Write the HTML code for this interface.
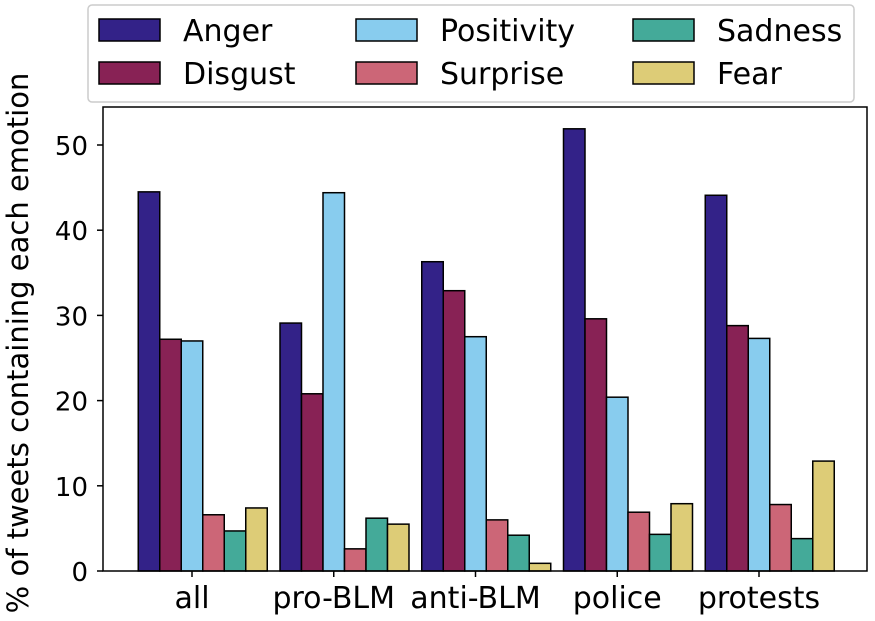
<!DOCTYPE html>
<html><head><meta charset="utf-8"><style>
body{margin:0;background:#fff;}
svg{display:block;font-family:"DejaVu Sans","Liberation Sans",sans-serif;}
</style></head><body>
<svg id="chart" width="875" height="621" viewBox="0 0 875 621">
<g id="bars"></g>
<rect x="103" y="107" width="764" height="464" fill="none" stroke="#000" stroke-width="1.5"/>
<g id="yaxis"></g>
<g id="xaxis"></g>
<text transform="translate(28,343) rotate(-90)" text-anchor="middle" font-size="29">% of tweets containing each emotion</text>
<g id="legend"></g>
</svg>
<script>
const categories = ["all","pro-BLM","anti-BLM","police","protests"];
const seriesNames = ["Anger","Disgust","Positivity","Surprise","Sadness","Fear"];
const anger = [44.5,29.1,36.3,51.9,44.1];
const disgust = [27.2,20.8,32.9,29.6,28.8];
const positivity = [27.0,44.4,27.5,20.4,27.3];
const surprise = [6.6,2.6,6.0,6.9,7.8];
const sadness = [4.7,6.2,4.2,4.3,3.8];
const fear = [7.4,5.5,0.9,7.9,12.9];
const yTicks = [0,10,20,30,40,50];
const series = [anger,disgust,positivity,surprise,sadness,fear];
const colors = ["#332288","#882255","#88CCEE","#CC6677","#44AA99","#DDCC77"];
const NS="http://www.w3.org/2000/svg";
const y0=571, pxPer=8.52;
function yScale(v){return y0 - v*pxPer;}
function xCenter(i){return 192 + i*141.75;}
const bw=21.5;
function mk(tag,attrs,parent){const e=document.createElementNS(NS,tag);for(const k in attrs)e.setAttribute(k,attrs[k]);parent.appendChild(e);return e;}
const bars=document.getElementById('bars');
series.forEach((s,si)=>{s.forEach((v,ci)=>{
  const x=xCenter(ci)+(si-2.5)*bw;
  const r=mk('rect',{x:x,y:yScale(v),width:bw,height:v*pxPer,fill:colors[si],stroke:'#000','stroke-width':1.5},bars);
  
  
});});
const ya=document.getElementById('yaxis');
yTicks.forEach(t=>{
  const l=mk('line',{x1:97,x2:103,y1:yScale(t),y2:yScale(t),stroke:'#000','stroke-width':1.5},ya);
  
  
  const tx=mk('text',{x:88,y:yScale(t)+10,'text-anchor':'end','font-size':26},ya);
  tx.textContent=t;
  
  
});
const xa=document.getElementById('xaxis');
categories.forEach((c,i)=>{
  const l=mk('line',{x1:xCenter(i),x2:xCenter(i),y1:571,y2:577,stroke:'#000','stroke-width':1.5},xa);
  
  
  const tx=mk('text',{x:xCenter(i),y:608,'text-anchor':'middle','font-size':30},xa);
  tx.textContent=c;
  
  
});
const lg=document.getElementById('legend');
const bg=mk('rect',{x:88,y:5,width:766,height:97,rx:4,fill:'#fff',stroke:'#ccc','stroke-width':1.5},lg);


const colX=[99,356,633], rowY=[19,62];
seriesNames.forEach((n,i)=>{
  const col=Math.floor(i/2), row=i%2;
  const p=mk('rect',{x:colX[col],y:rowY[row],width:61,height:22,fill:colors[i],stroke:'#000','stroke-width':1.5},lg);
  
  
  const t=mk('text',{x:colX[col]+84,y:rowY[row]+22,'font-size':30},lg);
  t.textContent=n;
  
  
});
</script>
</body></html>
